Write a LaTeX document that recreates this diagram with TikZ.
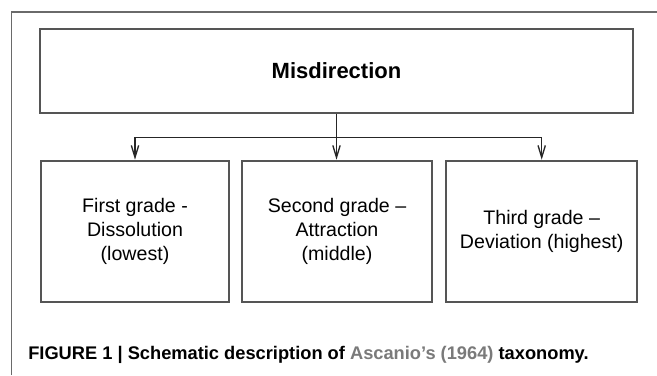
\documentclass[tikz,border=0pt]{standalone}
\usepackage{fontspec}
\setmainfont{Liberation Sans}
\usetikzlibrary{arrows.meta}
\definecolor{boxline}{HTML}{555555}
\definecolor{frameline}{HTML}{6A6A6A}
\definecolor{citegray}{HTML}{7A7A7A}
\tikzset{
  box/.style={draw=boxline, line width=1.5pt, rectangle, inner sep=0pt, align=center},
  gradebox/.style={box, minimum height=106.2pt,
    font=\fontsize{14.7}{18.2}\selectfont},
  conn/.style={draw=black!85, line width=1pt,
    -{Straight Barb[length=9pt,width=5.5pt,line width=1pt]}},
  plain/.style={draw=black!85, line width=1pt},
  frame/.style={draw=frameline, line width=1.1pt},
}
\begin{document}
\begin{tikzpicture}[x=0.75pt,y=-0.75pt]
  \useasboundingbox (0,0) rectangle (657,375);
  \fill[white] (0,0) rectangle (657,375);

  % open frame round the figure
  \draw[frame] (11.7,375) -- (11.7,12) -- (657,12);

  % top category
  \node[box, minimum width=445.2pt, minimum height=62.5pt,
        font=\fontsize{16.5}{20}\selectfont\bfseries] (top) at (336.5,71) {Misdirection};

  % the three grades
  \node[gradebox, minimum width=141pt] (g1) at (135,231.5)
    {First grade -\\Dissolution\\(lowest)};
  \node[gradebox, minimum width=142pt] (g2) at (337,231.5)
    {Second grade –\\Attraction\\(middle)};
  \node[gradebox, minimum width=143pt] (g3) at (541.7,231.5)
    {Third grade –\\Deviation (highest)};

  % branching connectors
  \draw[plain] (top.south) -- ++(0,24) coordinate (j);
  \draw[conn] (j) -- (j |- g2.north);
  \draw[conn] (j) -| (g1.north);
  \draw[conn] (j) -| (g3.north);

  % caption
  \node[anchor=base west, inner sep=0pt, font=\fontsize{13.7}{16}\selectfont\bfseries] (cap)
    at (28,359) {FIGURE 1 | Schematic description of \textcolor{citegray}{Ascanio’s (1964)} taxonomy.};
\end{tikzpicture}
\end{document}
